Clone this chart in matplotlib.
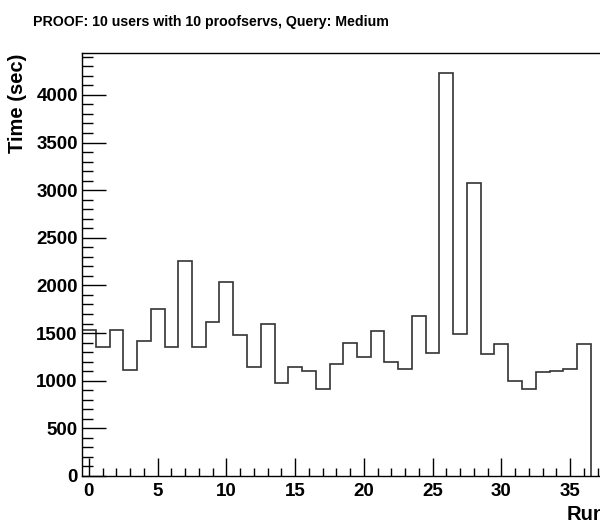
import matplotlib
matplotlib.use("Agg")
import matplotlib.pyplot as plt
import numpy as np

plt.rcParams['font.family'] = ['Liberation Sans', 'DejaVu Sans']
plt.rcParams['font.weight'] = 'bold'

# query time per run (sec), one bin per run
runs = np.arange(0, 37)
times = [1530, 1350, 1530, 1115, 1420, 1750, 1350, 2260, 1350, 1620,
         2035, 1480, 1140, 1600, 975, 1140, 1105, 915, 1175, 1400,
         1245, 1525, 1200, 1125, 1680, 1290, 4225, 1490, 3080, 1280,
         1385, 1000, 915, 1090, 1105, 1120, 1385]
title = "PROOF: 10 users with 10 proofservs, Query: Medium"
xlabel = "Run"
ylabel = "Time (sec)"

edges = np.append(runs - 0.5, runs[-1] + 0.5)

fig = plt.figure(figsize=(6, 5.23), dpi=100)
# axis runs on past the right edge of the canvas
ax = fig.add_axes([82/600, 47/523, 550/600, 422.7/523])
ax.stairs(times, edges, color='#333333', linewidth=1.2)

ax.set_xlim(-0.5, 39.5)
ax.set_ylim(0, 1.05 * max(times))

ax.set_xticks(np.arange(0, 40, 5))
ax.set_xticks(np.arange(0, 40, 1), minor=True)
ax.set_yticks(np.arange(0, 4500, 500))
ax.set_yticks(np.arange(0, 4500, 100), minor=True)
ax.tick_params(axis='both', which='both', direction='in', labelsize=13.5, width=1)
ax.tick_params(axis='x', which='major', length=13, pad=5)
ax.tick_params(axis='x', which='minor', length=6)
ax.tick_params(axis='y', which='major', length=17, pad=3)
ax.tick_params(axis='y', which='minor', length=8)
for lab in ax.get_xticklabels() + ax.get_yticklabels():
    lab.set_fontweight('bold')
for s in ax.spines.values():
    s.set_linewidth(1)

ax.set_ylabel(ylabel, fontsize=14.5, fontweight='bold', loc='top')
ax.yaxis.set_label_coords(-0.1, 1.0)
ax.set_xlabel(xlabel, fontsize=14.5, fontweight='bold', ha='left')
ax.xaxis.set_label_coords((567 - 82) / 550, -0.068)

fig.text(33/600, 1 - 22/523, title, fontsize=10.2, fontweight='bold', va='center', ha='left')

fig.savefig("out.png", dpi=100)
